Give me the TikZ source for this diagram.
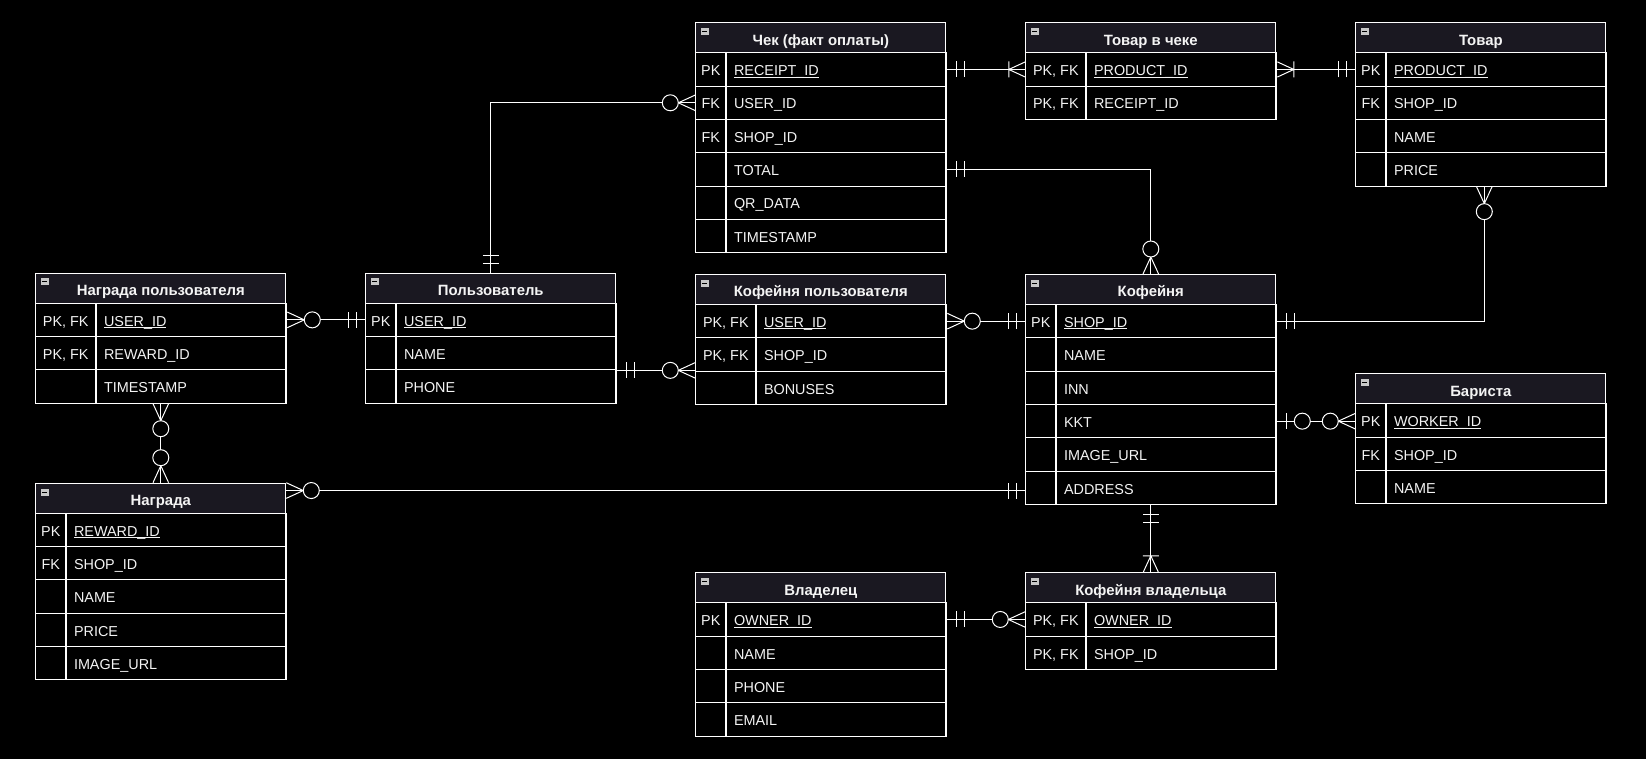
\documentclass[tikz,border=0pt]{standalone}
\usepackage{fontspec}
\setmainfont{Liberation Sans}
\usetikzlibrary{calc}

\definecolor{hdrfill}{HTML}{1A1821}
\definecolor{icongray}{HTML}{C8C8C8}
\definecolor{ink}{HTML}{F4F4F4}

% underline for primary-key fields
\newsavebox\pkbox
\newcommand\pkline[1]{\sbox\pkbox{#1}\rlap{\rule[-2pt]{\wd\pkbox}{0.9pt}}\usebox\pkbox}

\tikzset{
  hdrcell/.style={draw=white, line width=1pt, fill=hdrfill, inner sep=0pt,
    minimum width=250pt, minimum height=30pt},
  hdrtext/.style={text=ink, inner sep=0pt, text height=10.7pt, text depth=0pt,
    font=\fontsize{14.9}{17}\selectfont\bfseries},
  keycell/.style={draw=white, line width=1pt, fill=black, inner sep=0pt, minimum height=33.333pt},
  fieldcell/.style={draw=white, line width=1pt, fill=black, inner sep=0pt, minimum height=33.333pt},
  celltext/.style={text=ink, inner sep=0pt, text height=10.4pt, text depth=0pt},
  outline/.style={draw=white, line width=1pt, inner sep=0pt, minimum width=250pt},
  conn/.style={draw=white, line width=1pt},
  % crow's foot endings, drawn outward along the local x axis
  onlyone/.pic={\draw[conn] (9,-8) -- (9,8) (17,-8) -- (17,8);},
  onemany/.pic={\draw[conn] (0,-7.6) -- (16.5,0) -- (0,7.6) (16.5,-8) -- (16.5,8);},
  zeromany/.pic={\draw[conn] (0,-7.8) -- (17,0) -- (0,7.8);
                 \draw[conn, fill=black] (25,0) circle[radius=8pt];},
  zeroone/.pic={\draw[conn] (9,-8) -- (9,8);
                \draw[conn, fill=black] (25,0) circle[radius=8pt];},
}

% \ertable{name}{left}{top}{key column width}{title}{key/field rows}
\newcommand\ertable[6]{%
  \node[hdrcell, anchor=north west] (#1-h) at (#2,#3) {};
  \node[hdrtext] (#1-title) at ([yshift=-2pt]#1-h.center) {#5};
  \fill[icongray] ([xshift=5.5pt,yshift=-5.8pt]#1-h.north west) rectangle ++(8pt,-7pt);
  \draw[black, line width=1pt] ([xshift=7pt,yshift=-9.3pt]#1-h.north west) -- ++(5pt,0pt);
  \foreach \k/\f [count=\i] in {#6} {%
    \node[keycell, minimum width=#4pt, anchor=north west] (#1-k\i) at ({#2}, {#3+30+(\i-1)*33.333}) {};
    \node[fieldcell, minimum width={(250-#4)*1pt}, anchor=north west] (#1-f\i) at (#1-k\i.north east) {};
    \node[celltext] (#1-c\i) at ([yshift=-1pt]#1-k\i.center) {\k};
    \node[celltext, anchor=west] (#1-t\i) at ([xshift=7.5pt,yshift=-1pt]#1-f\i.west) {\f};
    \xdef\ernrows{\i}%
  }
  \node[outline, minimum height={(30+\ernrows*33.333)*1pt}, anchor=north west] (#1) at (#2,#3) {};
}

\begin{document}
\begin{tikzpicture}[x=1pt, y=-1pt, font=\fontsize{14.4}{17}\selectfont]
\fill[black] (0,0) rectangle (1646,759);
\useasboundingbox (0,0) rectangle (1646,759);

% ---- tables ----
\ertable{cheque}{695.3}{22.3}{30}{Чек (факт оплаты)}{PK/\pkline{RECEIPT\_ID}, FK/USER\_ID, FK/SHOP\_ID, {}/TOTAL, {}/QR\_DATA, {}/TIMESTAMP}
\ertable{citem}{1025.3}{22.3}{60}{Товар в чеке}{{PK, FK}/\pkline{PRODUCT\_ID}, {PK, FK}/RECEIPT\_ID}
\ertable{product}{1355.3}{22.3}{30}{Товар}{PK/\pkline{PRODUCT\_ID}, FK/SHOP\_ID, {}/NAME, {}/PRICE}
\ertable{ureward}{35.3}{272.7}{60}{Награда пользователя}{{PK, FK}/\pkline{USER\_ID}, {PK, FK}/REWARD\_ID, {}/TIMESTAMP}
\ertable{user}{365.3}{272.7}{30}{Пользователь}{PK/\pkline{USER\_ID}, {}/NAME, {}/PHONE}
\ertable{ushop}{695.3}{274}{60}{Кофейня пользователя}{{PK, FK}/\pkline{USER\_ID}, {PK, FK}/SHOP\_ID, {}/BONUSES}
\ertable{shop}{1025.3}{274}{30}{Кофейня}{PK/\pkline{SHOP\_ID}, {}/NAME, {}/INN, {}/KKT, {}/IMAGE\_URL, {}/ADDRESS}
\ertable{barista}{1355.3}{373.3}{30}{Бариста}{PK/\pkline{WORKER\_ID}, FK/SHOP\_ID, {}/NAME}
\ertable{reward}{35.3}{482.7}{30}{Награда}{PK/\pkline{REWARD\_ID}, FK/SHOP\_ID, {}/NAME, {}/PRICE, {}/IMAGE\_URL}
\ertable{owner}{695.3}{572.3}{30}{Владелец}{PK/\pkline{OWNER\_ID}, {}/NAME, {}/PHONE, {}/EMAIL}
\ertable{oshop}{1025.3}{572.3}{60}{Кофейня владельца}{{PK, FK}/\pkline{OWNER\_ID}, {PK, FK}/SHOP\_ID}

% ---- relationships ----
% user -- cheque
\draw[conn] (user.north) |- (cheque-k2.west);
\pic[rotate=90] at (user.north) {onlyone};
\pic[rotate=180] at (cheque-k2.west) {zeromany};

% cheque -- cheque item
\draw[conn] (cheque-f1.east) -- (citem-k1.west);
\pic at (cheque-f1.east) {onlyone};
\pic[rotate=180] at (citem-k1.west) {onemany};

% cheque item -- product
\draw[conn] (citem-f1.east) -- (product-k1.west);
\pic at (citem-f1.east) {onemany};
\pic[rotate=180] at (product-k1.west) {onlyone};

% cheque -- coffee shop
\draw[conn] (cheque-f4.east) -| (shop.north);
\pic at (cheque-f4.east) {onlyone};
\pic[rotate=90] at (shop.north) {zeromany};

% product -- coffee shop
\coordinate (pfoot) at ([xshift=3.5pt]product.south);
\draw[conn] (pfoot) |- (shop-f1.east);
\pic[rotate=-90] at (pfoot) {zeromany};
\pic at (shop-f1.east) {onlyone};

% user reward -- user
\draw[conn] (ureward-f1.east) -- (user-k1.west);
\pic at (ureward-f1.east) {zeromany};
\pic[rotate=180] at (user-k1.west) {onlyone};

% user -- user's coffee shop
\draw[conn] (user-f2.south east) -- (user-f2.south east -| ushop.west);
\pic at (user-f2.south east) {onlyone};
\pic[rotate=180] at (user-f2.south east -| ushop.west) {zeromany};

% user's coffee shop -- coffee shop
\draw[conn] (ushop-f1.east) -- (shop-k1.west);
\pic at (ushop-f1.east) {zeromany};
\pic[rotate=180] at (shop-k1.west) {onlyone};

% user reward -- reward
\draw[conn] (ureward.south) -- (reward.north);
\pic[rotate=-90] at (ureward.south) {zeromany};
\pic[rotate=90] at (reward.north) {zeromany};

% reward -- coffee shop
\coordinate (rwend) at ([yshift=-2.7pt]shop-k6.west);
\draw[conn] (rwend) -- (rwend -| reward.east);
\pic[rotate=180] at (rwend) {onlyone};
\pic at (rwend -| reward.east) {zeromany};

% coffee shop -- barista
\draw[conn] (shop-f4.east) -- (shop-f4.east -| barista.west);
\pic at (shop-f4.east) {zeroone};
\pic[rotate=180] at (shop-f4.east -| barista.west) {zeromany};

% coffee shop -- owner's coffee shop
\draw[conn] (shop.south) -- (oshop.north);
\pic[rotate=-90] at (shop.south) {onlyone};
\pic[rotate=90] at (oshop.north) {onemany};

% owner -- owner's coffee shop
\draw[conn] (owner-f1.east) -- (oshop-k1.west);
\pic at (owner-f1.east) {onlyone};
\pic[rotate=180] at (oshop-k1.west) {zeromany};
\end{tikzpicture}
\end{document}
